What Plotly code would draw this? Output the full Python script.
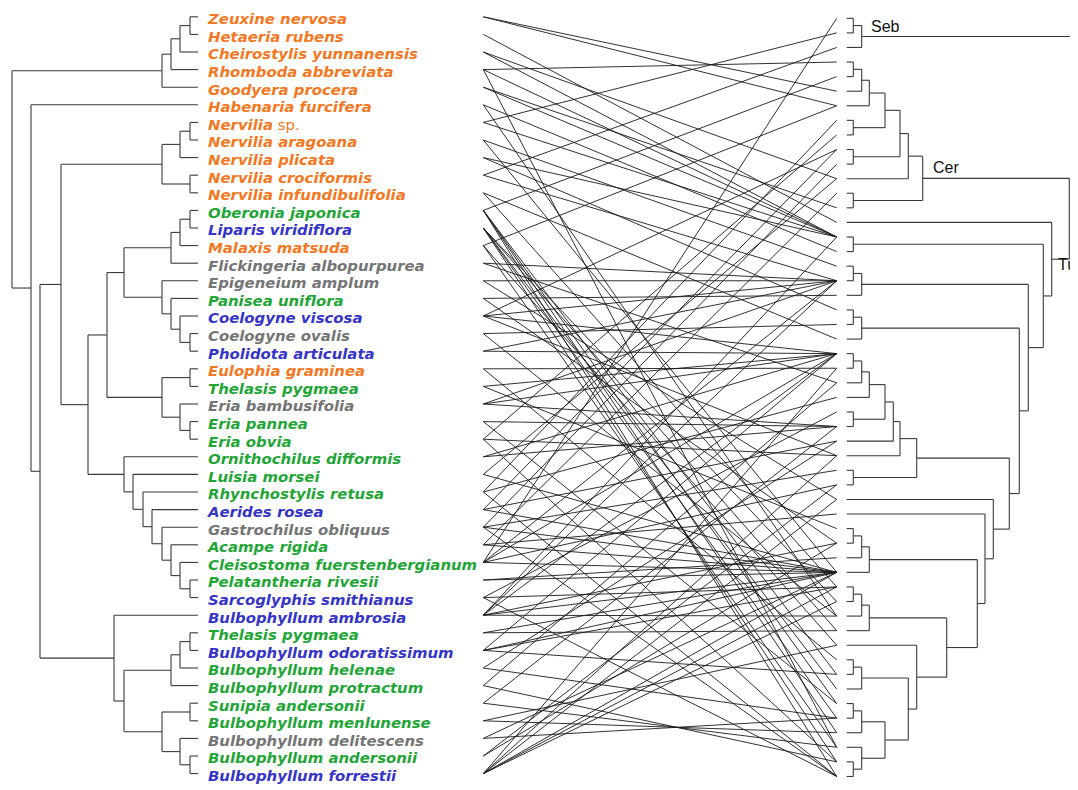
import plotly.graph_objects as go

# ---------------- data ----------------
left_species = [
    "Zeuxine nervosa", "Hetaeria rubens", "Cheirostylis yunnanensis", "Rhomboda abbreviata",
    "Goodyera procera", "Habenaria furcifera", "Nervilia|sp.", "Nervilia aragoana",
    "Nervilia plicata", "Nervilia crociformis", "Nervilia infundibulifolia", "Oberonia japonica",
    "Liparis viridiflora", "Malaxis matsuda", "Flickingeria albopurpurea", "Epigeneium amplum",
    "Panisea uniflora", "Coelogyne viscosa", "Coelogyne ovalis", "Pholidota articulata",
    "Eulophia graminea", "Thelasis pygmaea", "Eria bambusifolia", "Eria pannea", "Eria obvia",
    "Ornithochilus difformis", "Luisia morsei", "Rhynchostylis retusa", "Aerides rosea",
    "Gastrochilus obliquus", "Acampe rigida", "Cleisostoma fuerstenbergianum",
    "Pelatantheria rivesii", "Sarcoglyphis smithianus", "Bulbophyllum ambrosia",
    "Thelasis pygmaea", "Bulbophyllum odoratissimum", "Bulbophyllum helenae",
    "Bulbophyllum protractum", "Sunipia andersonii", "Bulbophyllum menlunense",
    "Bulbophyllum delitescens", "Bulbophyllum andersonii", "Bulbophyllum forrestii",
]
left_group = list("OOOOOOOOOOO" "GBOYYGBYB" "OGYGG" "GGGBYGGGB" "BGBGGGGYGB")
group_colors = {"O": "#F4781F", "G": "#1FA637", "B": "#3535C8", "Y": "#757575"}

n_right = 53
right_clade_labels = ["Seb", "Cer", "Tul"]

# associations: left leaf index -> right leaf indices
links = {
    0: [5, 6], 1: [14], 2: [11, 15], 3: [3, 15, 50], 4: [13, 15], 5: [16, 41],
    6: [1, 15], 7: [17, 38], 8: [15, 20], 9: [2, 18], 10: [22, 39],
    11: [4, 45, 47, 49, 52], 12: [40, 42, 46, 48, 51], 13: [43, 50, 6],
    14: [18, 25], 15: [18, 33], 16: [19, 36], 17: [18, 23, 30, 9], 18: [21, 41],
    19: [18, 23], 20: [24, 44], 21: [23, 35], 22: [18, 23, 28], 23: [28, 47],
    24: [8, 30, 51], 25: [23, 28], 26: [38, 11], 27: [7, 26, 52], 28: [9, 29, 38],
    29: [10, 31, 38, 52], 30: [12, 34, 38], 31: [0, 18, 23, 32, 38], 32: [37, 38],
    33: [27, 39, 52], 34: [15, 18, 23, 36, 38, 41], 35: [38, 42], 36: [23, 38, 45, 39],
    37: [29, 48], 38: [25, 51], 39: [28, 50], 40: [49, 43], 41: [48, 38], 42: [32, 36],
    43: [24, 30, 33, 38, 39, 40],
}


def N(h, *kids):
    return (h, kids)


# left tree (height = distance from tips)
_G = N(36, N(27, N(18, N(8, 0, 1), 2), 3), 4)
_Nerv = N(36, N(18, N(8, 6, 7), 8), N(8, 9, 10))
_Mal = N(27, N(18, N(8, 11, 12), 13), 14)
_Coel = N(36, 15, N(27, 16, N(18, 17, N(8, 18, 19))))
_Eria = N(36, N(8, 20, 21), N(18, 22, N(8, 23, 24)))
_Vanda = N(74, 25, N(65, 26, N(55, 27, N(46, 28, N(36, 29, N(27, 30, N(18, 31, N(8, 32, 33))))))))
_Bulb = N(84, 34, N(74, N(27, N(18, N(8, 35, 36), 37), 38),
                    N(36, N(8, 39, 40), N(18, 41, N(8, 42, 43)))))
left_tree = N(186, _G, N(167, 5, N(158, N(137, _Nerv, N(110, N(91, N(74, _Mal, _Coel), _Eria), _Vanda)), _Bulb)))

# right tree
_Seb = N(15, N(6.6, 0, 1), 2)
_Cer = N(76, N(61.6, N(53.3, N(38.3, N(22.6, N(15, N(6.6, 3, 4), 5), 6), N(6.6, 7, 8)),
                       N(6.6, 9, 10)), 11), N(6.6, 12, 13))
_A = N(22.6, N(15, N(6.6, 23, 24), 25), 26)
_E = N(70, N(53.3, N(46.6, N(38.3, _A, N(6.6, 27, 28)), 29), 30), N(6.6, 31, 32))
_X = N(22.6, N(15, N(6.6, 35, 36), 37), 38)
_Y = N(100, N(22.6, N(15, N(6.6, 39, 40), 41), 42),
       N(70, 43, N(61.6, N(15, N(6.6, 44, 45), 46),
                  N(38.3, N(15, N(6.6, 47, 48), 49), N(15, 50, N(6.6, 51, 52))))))
_Tul = N(205, 14, N(196.6, N(6.6, 15, 16),
                    N(181.6, N(15, N(6.6, 17, 18), 19),
                      N(172.6, N(15, N(6.6, 20, 21), 22),
                        N(162.6, _E, N(146.6, 33, N(138.3, 34, N(130.6, _X, _Y))))))))
right_tree = N(253, _Seb, N(222.6, _Cer, _Tul))

# ---------------- layout scales ----------------
W, H = 1078, 790
PAGE_OFF = 8  # default page body margin of the html
LEFT_TIP, RIGHT_TIP = 198.0, 846.7
LINK_X0, LINK_X1 = 483.3, 836.7


def ly(i):
    return 16.8 + 17.6 * i


def ry(j):
    return 18.3 + 14.58 * j


def tree_segments(tree, yfun, xfun):
    xs, ys = [], []

    def rec(node):
        if isinstance(node, int):
            return xfun(0), yfun(node)
        h, kids = node
        xn = xfun(h)
        pts = [rec(k) for k in kids]
        cy = [p[1] for p in pts]
        xs.extend([xn, xn, None]); ys.extend([min(cy), max(cy), None])
        for (cx, yy) in pts:
            xs.extend([xn, cx, None]); ys.extend([yy, yy, None])
        return xn, (min(cy) + max(cy)) / 2

    rec(tree)
    return xs, ys


lx, lyy = tree_segments(left_tree, ly, lambda h: LEFT_TIP - h)
rx, ryy = tree_segments(right_tree, ry, lambda h: RIGHT_TIP + h)

kx, ky = [], []
for i, js in links.items():
    for j in js:
        kx.extend([LINK_X0, LINK_X1, None]); ky.extend([ly(i), ry(j), None])

fig = go.Figure()
fig.add_trace(go.Scatter(x=kx, y=ky, mode="lines", line=dict(color="#1a1a1a", width=0.9),
                         hoverinfo="skip", showlegend=False))
fig.add_trace(go.Scatter(x=lx, y=lyy, mode="lines", line=dict(color="#3a3a3a", width=1.1),
                         hoverinfo="skip", showlegend=False))
fig.add_trace(go.Scatter(x=rx, y=ryy, mode="lines", line=dict(color="#3a3a3a", width=1.1),
                         hoverinfo="skip", showlegend=False))

texts = []
for s in left_species:
    if "|" in s:
        a, b = s.split("|")
        texts.append(f"<b><i>{a}</i></b> {b}")
    else:
        texts.append(f"<b><i>{s}</i></b>")
fig.add_trace(go.Scatter(
    x=[LEFT_TIP + 10] * len(left_species), y=[ly(i) + 3.6 for i in range(len(left_species))],
    mode="text", text=texts, textposition="middle right",
    textfont=dict(family="DejaVu Sans", size=14.9, color=[group_colors[g] for g in left_group]),
    hoverinfo="skip", showlegend=False))

# clade labels
clade_pos = {"Seb": (869, 26), "Cer": (931, 167), "Tul": (1056, 264)}
for lab in right_clade_labels:
    x0, y0 = clade_pos[lab]
    fig.add_annotation(x=x0, y=y0, text=lab, showarrow=False, xanchor="left", yanchor="middle",
                       font=dict(family="Liberation Sans", size=16, color="#111111"))

fig.update_layout(width=W, height=H, margin=dict(l=0, r=0, t=0, b=0),
                  plot_bgcolor="white", paper_bgcolor="white",
                  xaxis=dict(range=[PAGE_OFF, W + PAGE_OFF], visible=False, fixedrange=True),
                  yaxis=dict(range=[H + PAGE_OFF, PAGE_OFF], visible=False, fixedrange=True))
fig.write_html("out.html")
